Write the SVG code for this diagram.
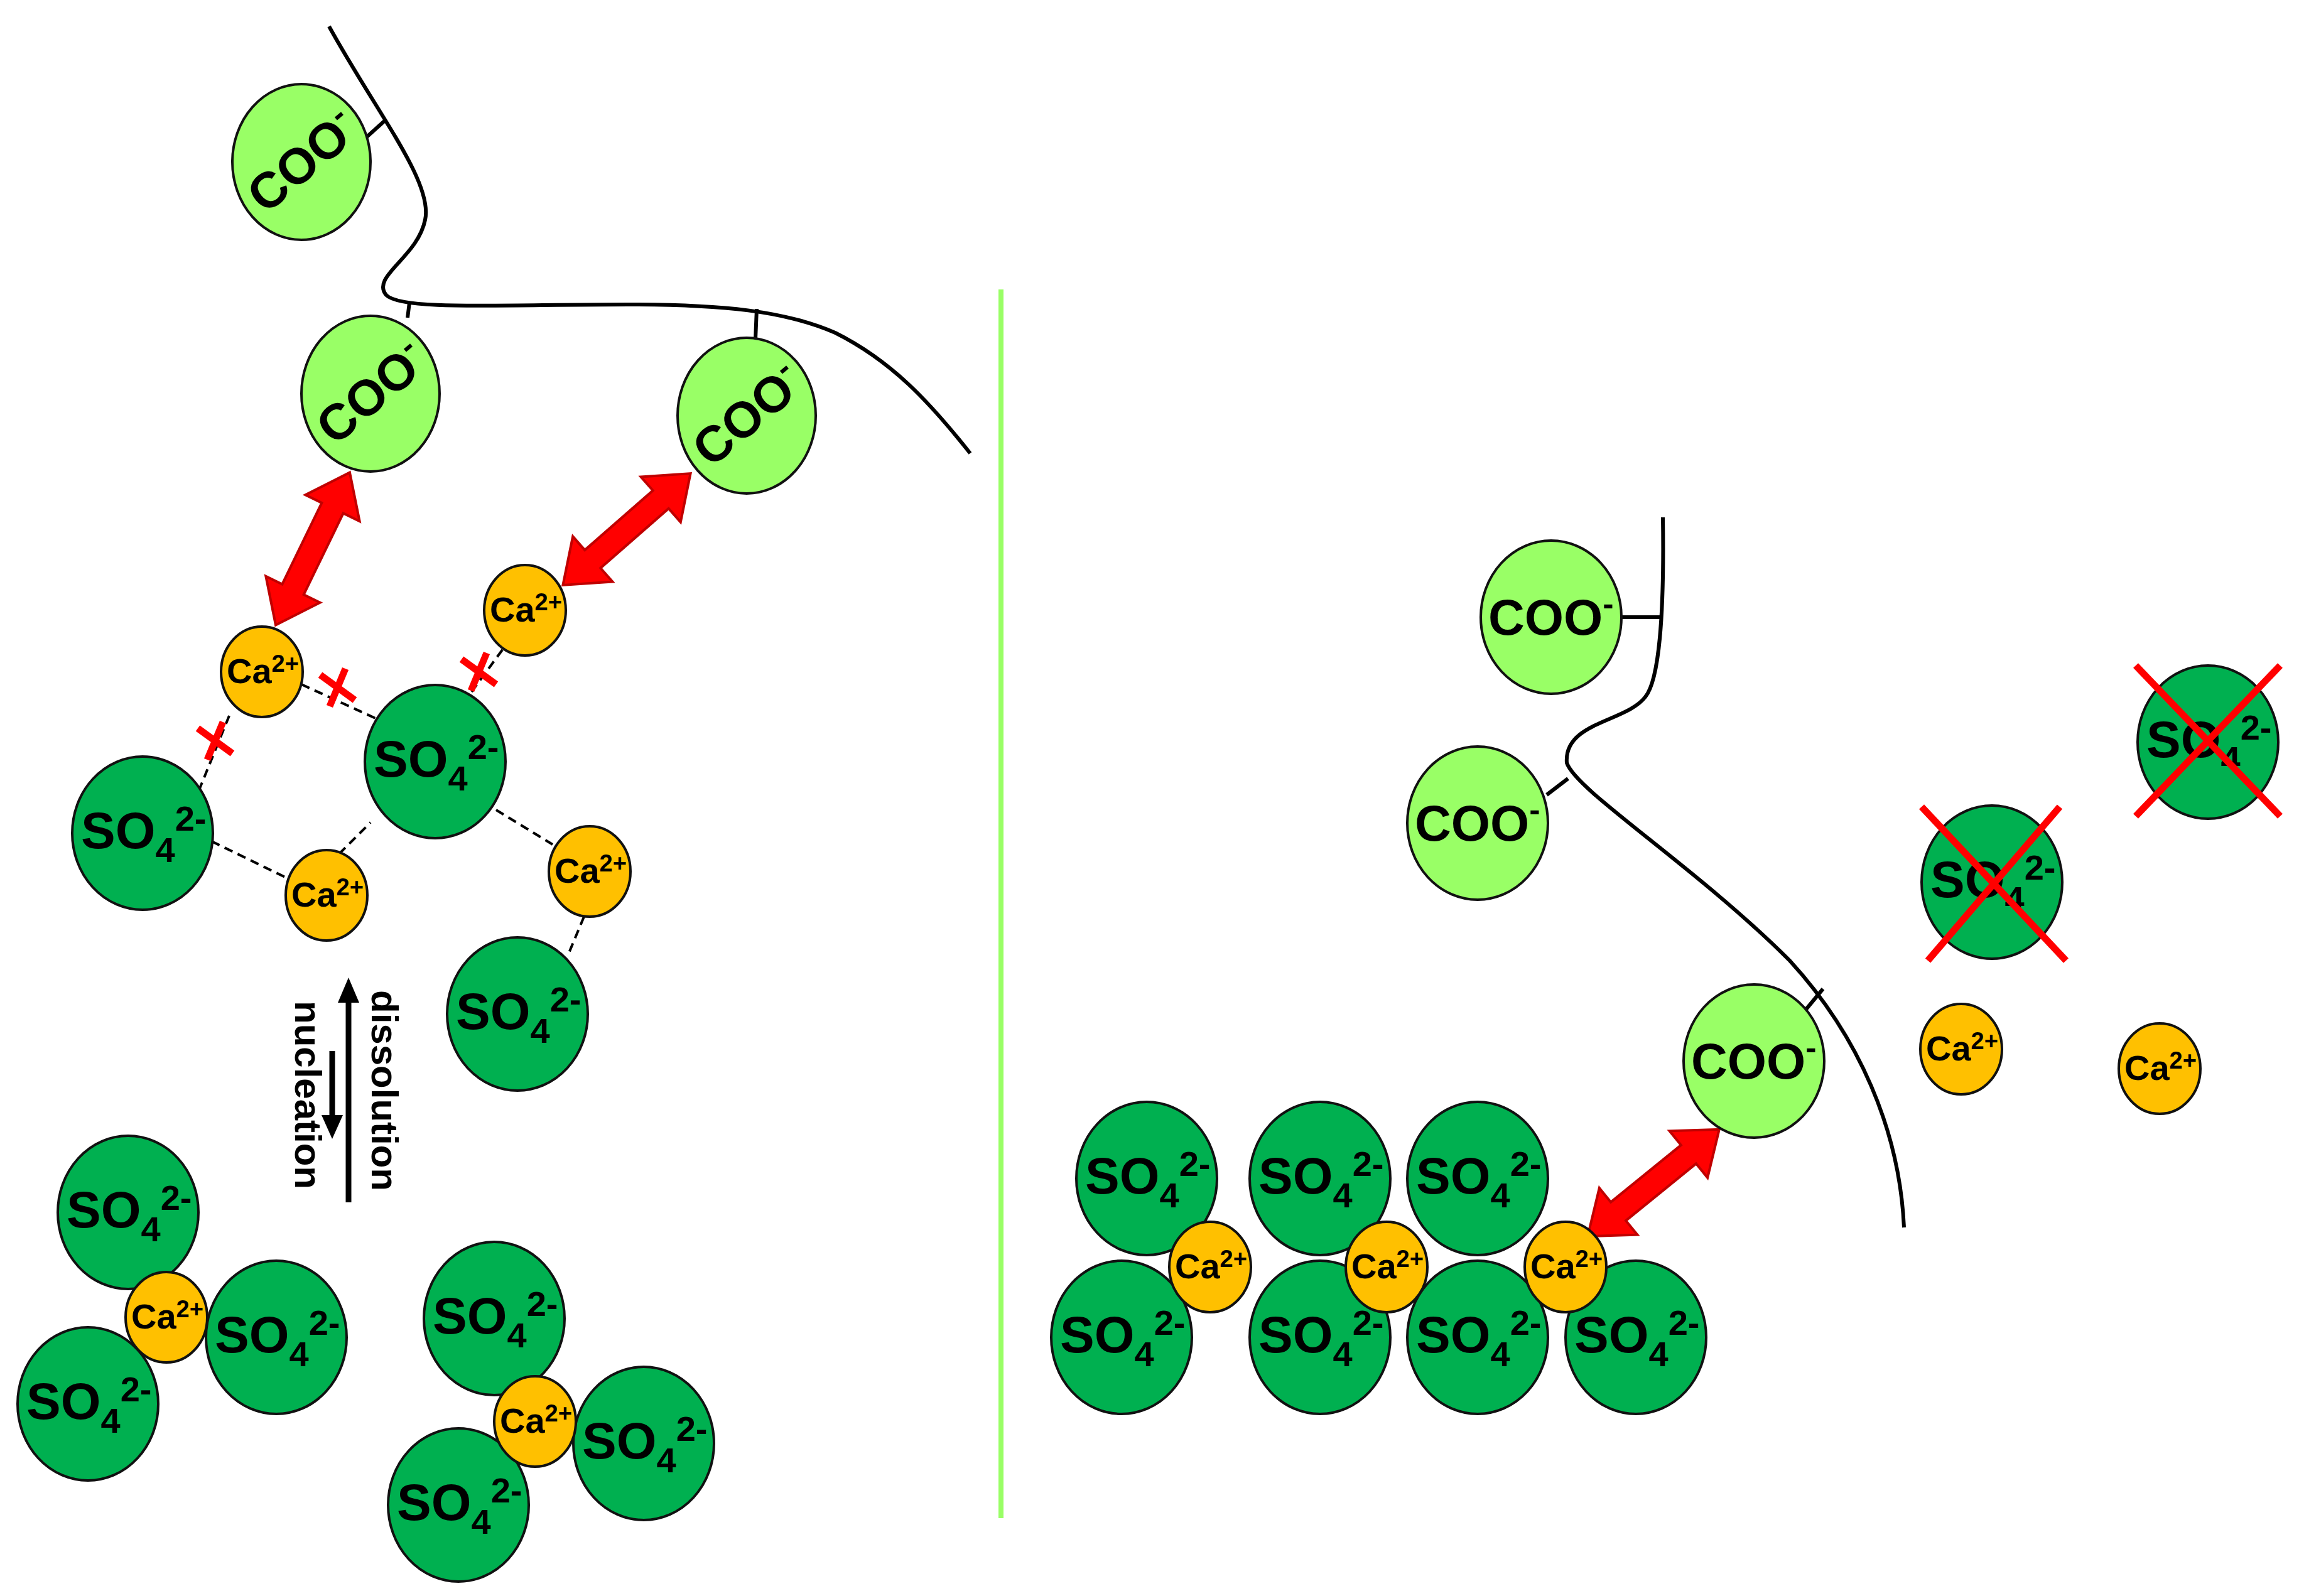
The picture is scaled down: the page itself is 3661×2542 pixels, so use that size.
<svg xmlns="http://www.w3.org/2000/svg" width="3661" height="2542" viewBox="0 0 3661 2542">
<style>
.so{fill:#00b050;stroke:#111;stroke-width:4}
.ca{fill:#ffc000;stroke:#111;stroke-width:4}
.coo{fill:#99ff66;stroke:#111;stroke-width:4}
.t{font-family:"Liberation Sans",Arial,sans-serif;font-weight:bold;fill:#000}
.poly{fill:none;stroke:#000;stroke-width:6}
.dash{stroke:#000;stroke-width:4;stroke-dasharray:14 9;fill:none}
.rx{stroke:#ff0000;stroke-width:11;fill:none}
.arr{fill:#ff0000;stroke:#c00000;stroke-width:4}
</style>
<defs>
<g id="SO"><ellipse class="so" rx="112" ry="122"/><text class="t" x="-98" y="24" font-size="82">SO<tspan font-size="56" dy="22">4</tspan><tspan font-size="56" dy="-50">2-</tspan></text></g>
<g id="CA"><ellipse class="ca" rx="65" ry="72"/><text class="t" x="-56" y="18" font-size="56">Ca<tspan font-size="38" dy="-18">2+</tspan></text></g>
<g id="COO"><ellipse class="coo" rx="112" ry="122"/><text class="t" x="-100" y="28" font-size="80">COO<tspan font-size="52" dy="-32">-</tspan></text></g>
<path id="DA" class="arr" d="M-135,0 L-72,-48 L-72,-19 L72,-19 L72,-48 L135,0 L72,48 L72,19 L-72,19 L-72,48 Z"/>
</defs>
<g id="connectors">
<path class="poly" d="M524,42 C600,180 690,290 677,350 C665,410 590,440 615,470 C640,495 800,485 1000,485 C1150,485 1250,495 1330,530 C1420,575 1480,640 1545,722"/>
<line class="poly" x1="573" y1="228" x2="613" y2="192"/>
<line class="poly" x1="649" y1="506" x2="652" y2="482"/>
<line class="poly" x1="1203" y1="541" x2="1205" y2="492"/>
<path class="poly" d="M2648,824 C2650,950 2645,1080 2620,1110 C2590,1150 2490,1150 2495,1215 C2510,1260 2700,1380 2850,1530 C2960,1650 3025,1800 3032,1955"/>
<line class="poly" x1="2582" y1="983" x2="2646" y2="983"/>
<line class="poly" x1="2463" y1="1266" x2="2497" y2="1240"/>
<line class="poly" x1="2874" y1="1610" x2="2903" y2="1575"/>
<line class="dash" x1="365" y1="1140" x2="307" y2="1283"/>
<line class="dash" x1="480" y1="1090" x2="611" y2="1150"/>
<line class="dash" x1="800" y1="1035" x2="745" y2="1110"/>
<line class="dash" x1="337" y1="1340" x2="460" y2="1400"/>
<line class="dash" x1="540" y1="1360" x2="590" y2="1310"/>
<line class="dash" x1="790" y1="1290" x2="880" y2="1345"/>
<line class="dash" x1="930" y1="1460" x2="905" y2="1520"/>
<line x1="1594" y1="461" x2="1594" y2="2418" stroke="#99ff66" stroke-width="8"/>
<use href="#DA" transform="translate(498,874) rotate(115.9)"/>
<use href="#DA" transform="translate(998,843) rotate(138.8)"/>
<use href="#DA" transform="translate(2633,1884) rotate(140.9)"/>
<line x1="555" y1="1590" x2="555" y2="1915" stroke="#000" stroke-width="9"/>
<polygon points="555,1557 538,1597 572,1597" fill="#000"/>
<line x1="529" y1="1674" x2="529" y2="1785" stroke="#000" stroke-width="9"/>
<polygon points="529,1814 512,1776 546,1776" fill="#000"/>
</g>
<g id="cooL1" transform="translate(480,258)"><ellipse class="coo" rx="110" ry="124"/><text class="t" x="-98" y="28" font-size="80" transform="rotate(-40)">COO<tspan font-size="52" dy="-32">-</tspan></text></g>
<g id="cooL2" transform="translate(590,627)"><ellipse class="coo" rx="110" ry="124"/><text class="t" x="-98" y="28" font-size="80" transform="rotate(-40)">COO<tspan font-size="52" dy="-32">-</tspan></text></g>
<g id="cooL3" transform="translate(1189,662)"><ellipse class="coo" rx="110" ry="124"/><text class="t" x="-98" y="28" font-size="80" transform="rotate(-40)">COO<tspan font-size="52" dy="-32">-</tspan></text></g>
<g id="ca1"><use href="#CA" x="417" y="1070"/></g>
<g id="ca2"><use href="#CA" x="836" y="972"/></g>
<g id="so4c"><use href="#SO" x="693" y="1213"/></g>
<g id="so4l"><use href="#SO" x="227" y="1327"/></g>
<g id="caB"><use href="#CA" x="520" y="1426"/></g>
<g id="caR"><use href="#CA" x="939" y="1388"/></g>
<g id="so4low"><use href="#SO" x="824" y="1615"/></g>
<g id="xmarks">
<path class="rx" d="M315,1160 L370,1200 M330,1210 L355,1150"/>
<path class="rx" d="M510,1075 L565,1115 M525,1125 L550,1065"/>
<path class="rx" d="M735,1050 L790,1090 M750,1100 L775,1040"/>
</g>
<g id="labels">
<text class="t" font-size="60" transform="translate(592,1737) rotate(90)" text-anchor="middle">dissolution</text>
<text class="t" font-size="60" transform="translate(470,1744) rotate(90)" text-anchor="middle">nucleation</text>
</g>
<g id="c1a"><use href="#SO" x="204" y="1931"/></g>
<g id="c1c"><use href="#SO" x="440" y="2130"/></g>
<g id="c1d"><use href="#SO" x="140" y="2236"/></g>
<g id="c1b"><use href="#CA" x="265" y="2098"/></g>
<g id="c2a"><use href="#SO" x="787" y="2100"/></g>
<g id="c2c"><use href="#SO" x="1025" y="2299"/></g>
<g id="c2d"><use href="#SO" x="730" y="2397"/></g>
<g id="c2b"><use href="#CA" x="852" y="2264"/></g>
<g id="cooR1"><use href="#COO" x="2470" y="983"/></g>
<g id="cooR2"><use href="#COO" x="2353" y="1311"/></g>
<g id="cooR3"><use href="#COO" x="2793" y="1690"/></g>
<g id="soX1"><use href="#SO" x="3516" y="1182"/><path class="rx" d="M3401,1060 L3631,1300 M3631,1060 L3401,1300"/></g>
<g id="soX2"><use href="#SO" x="3172" y="1405"/><path class="rx" d="M3060,1285 L3290,1530 M3280,1285 L3070,1530"/></g>
<g id="caF1"><use href="#CA" x="3123" y="1671"/></g>
<g id="caF2"><use href="#CA" x="3439" y="1702"/></g>
<g id="rowTop"><use href="#SO" x="1826" y="1877"/><use href="#SO" x="2102" y="1877"/><use href="#SO" x="2353" y="1877"/></g>
<g id="rowBot"><use href="#SO" x="1786" y="2130"/><use href="#SO" x="2102" y="2130"/><use href="#SO" x="2353" y="2130"/><use href="#SO" x="2605" y="2130"/></g>
<g id="rowCa"><use href="#CA" x="1927" y="2018"/><use href="#CA" x="2208" y="2018"/><use href="#CA" x="2493" y="2018"/></g>
</svg>
